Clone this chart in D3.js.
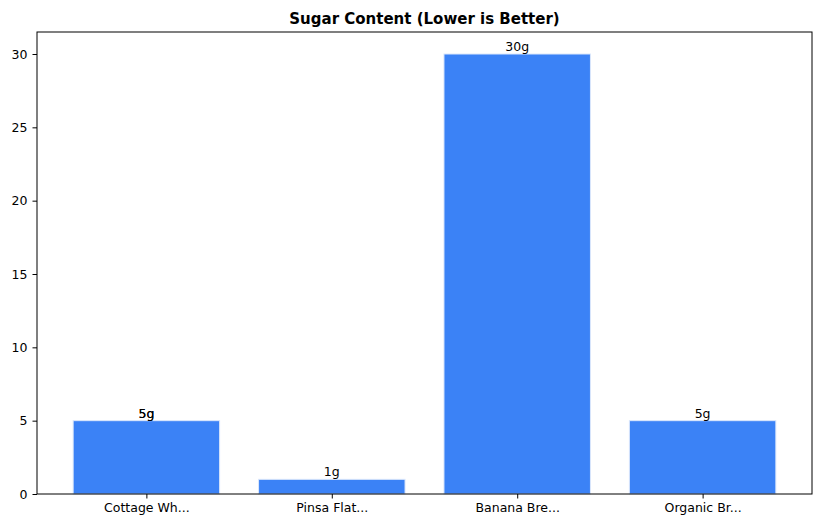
<!DOCTYPE html>
<html><head><meta charset="utf-8">
<script src="https://cdn.jsdelivr.net/npm/d3@7"></script>
<style>body{margin:0;background:#fff}text{font-family:"DejaVu Sans",sans-serif}</style>
</head><body><svg id="c" width="822" height="528"></svg>
<script>
const categories = ["Cottage Wh...", "Pinsa Flat...", "Banana Bre...", "Organic Br..."];
const sugar = [5, 1, 30, 5];
const labels = ["5g", "1g", "30g", "5g"];
const yTicks = [0, 5, 10, 15, 20, 25, 30];

const svg = d3.select("#c");
const m = {l: 37, r: 812, t: 32, b: 494};
const x = d3.scaleLinear().domain([-0.59, 3.59]).range([m.l, m.r]);
const y = d3.scaleLinear().domain([0, 31.5]).range([m.b, m.t]);
const bw = x(0.79) - x(0);

svg.selectAll("rect.bar").data(sugar).join("rect")
  .attr("x", (d, i) => x(i) - bw / 2).attr("width", bw)
  .attr("y", d => y(d)).attr("height", d => y(0) - y(d))
  .attr("fill", "#3b82f6").attr("stroke", "#dbe7fb").attr("stroke-width", 1);

// first label drawn twice, as in the reference
const lab = sugar.map((d, i) => ({d, i, t: labels[i]})).concat([{d: sugar[0], i: 0, t: labels[0]}]);
svg.selectAll("text.val").data(lab).join("text")
  .attr("x", o => x(o.i)).attr("y", o => y(o.d) - 3)
  .attr("text-anchor", "middle").attr("font-size", 12.5).text(o => o.t);

svg.append("g").attr("transform", `translate(0,${m.b})`)
  .call(d3.axisBottom(x).tickValues([0, 1, 2, 3]).tickFormat(i => categories[i]).tickSizeOuter(0).tickSize(4.5).tickPadding(5))
  .call(g => g.selectAll("text").attr("font-size", 12.5).attr("fill", "#000"));
svg.append("g").attr("transform", `translate(${m.l},0)`)
  .call(d3.axisLeft(y).tickValues(yTicks).tickSizeOuter(0).tickSize(4.5).tickPadding(5))
  .call(g => g.selectAll("text").attr("font-size", 12.5).attr("fill", "#000"));
svg.selectAll(".domain").remove();
svg.append("rect").attr("x", m.l).attr("y", m.t).attr("width", m.r - m.l).attr("height", m.b - m.t)
  .attr("fill", "none").attr("stroke", "#000").attr("stroke-width", 1);

svg.append("text").attr("x", (m.l + m.r) / 2).attr("y", 24).attr("text-anchor", "middle")
  .attr("font-size", 15).attr("font-weight", "bold").text("Sugar Content (Lower is Better)");
</script></body></html>
